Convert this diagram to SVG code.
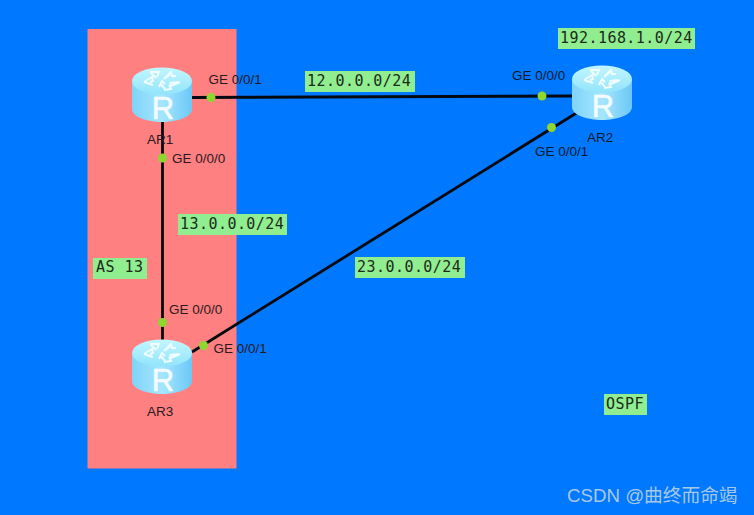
<svg xmlns="http://www.w3.org/2000/svg" width="754" height="515" viewBox="0 0 754 515">
<style>
.lbl{font:13.500px "Liberation Sans",Arial,sans-serif;fill:#0b1a2a}
.lbl2{font:13.500px "Liberation Sans",Arial,sans-serif;fill:#2a1a20}
.tag{fill:#90ee90}
.tt{font:15px "DejaVu Sans Mono","Liberation Mono",monospace;fill:#1c2a1c;letter-spacing:.45px}
.link{stroke:#050a10;stroke-width:2.8;fill:none}
.dot{fill:#8fd62f}
.side{fill:url(#side)}
.top{fill:url(#top)}
.rr{font:400 31px "Liberation Sans",Arial,sans-serif;fill:#f2fcff;text-anchor:middle;stroke:#f2fcff;stroke-width:.6}
.arrow{fill:none;stroke:#f0fdff;stroke-width:2}
</style>
<defs>
<linearGradient id="side" x1="0" x2="1" y1="0" y2="0">
<stop offset="0" stop-color="#7fd4f8"/><stop offset=".5" stop-color="#a6e6ff"/><stop offset="1" stop-color="#6cc8f6"/>
</linearGradient>
<linearGradient id="top" x1="0" x2="0" y1="0" y2="1">
<stop offset="0" stop-color="#c2f6ff"/><stop offset="1" stop-color="#92e4fb"/>
</linearGradient>
<g id="router">
<path class="side" d="M-30-14V14C-30 22-15 27 0 27S30 22 30 14V-14Z"/>
<ellipse class="top" cx="0" cy="-14" rx="30" ry="13.5"/>
<path class="arrow" d="M-18-13l8-5 1 4-3 1M-18-13l9 3M-12-23l9 0-2 5M-11-22l5 5M3-17l6-6 1 4 4 0M2-16l6-5M18-13l-9 4-1-4M16-13l-8 1M-3-8l3-6 3 3M2-5l7-1-2-4M3-6l-5-6"/>
<text class="rr" x="1" y="24">R</text>
</g>
</defs>
<rect width="754" height="515" fill="#0078ff"/>
<rect x="87.500" y="29" width="149" height="439.500" fill="#ff8080"/>
<g id="connectors">
<line class="link" x1="192" y1="97.500" x2="572" y2="96"/>
<line class="link" x1="162.500" y1="120" x2="162.500" y2="342"/>
<line class="link" x1="192" y1="352" x2="578" y2="112"/>
<circle class="dot" cx="211" cy="97.500" r="4.500"/>
<circle class="dot" cx="542" cy="96" r="4.500"/>
<circle class="dot" cx="162.500" cy="158" r="4.500"/>
<circle class="dot" cx="162.500" cy="322.500" r="4.500"/>
<circle class="dot" cx="551.500" cy="127.500" r="4.500"/>
<circle class="dot" cx="203.500" cy="345.500" r="4.500"/>
</g>
<g id="AR1"><use href="#router" x="162" y="95"/><text class="lbl2" x="147" y="144">AR1</text></g>
<g id="AR2"><use href="#router" x="602" y="93"/><text class="lbl" x="587" y="142">AR2</text></g>
<g id="AR3"><use href="#router" x="162" y="367"/><text class="lbl2" x="147" y="416">AR3</text></g>
<g id="port-labels">
<text class="lbl2" x="208.500" y="84">GE 0/0/1</text>
<text class="lbl2" x="172" y="163">GE 0/0/0</text>
<text class="lbl" x="512" y="80">GE 0/0/0</text>
<text class="lbl" x="535" y="156">GE 0/0/1</text>
<text class="lbl2" x="169" y="314">GE 0/0/0</text>
<text class="lbl2" x="213.500" y="353">GE 0/0/1</text>
</g>
<g id="n-12"><rect class="tag" x="305" y="71" width="110" height="21"/><text class="tt" x="307" y="86">12.0.0.0/24</text></g>
<g id="n-192"><rect class="tag" x="558" y="28" width="137" height="21"/><text class="tt" x="560" y="43">192.168.1.0/24</text></g>
<g id="n-13"><rect class="tag" x="178" y="214" width="109" height="21"/><text class="tt" x="180" y="229">13.0.0.0/24</text></g>
<g id="n-as"><rect class="tag" x="93" y="258" width="54" height="21"/><text class="tt" x="96" y="272">AS 13</text></g>
<g id="n-23"><rect class="tag" x="355" y="257" width="110" height="21"/><text class="tt" x="357" y="272">23.0.0.0/24</text></g>
<g id="n-ospf"><rect class="tag" x="604" y="394" width="43" height="21"/><text class="tt" x="606" y="409">OSPF</text></g>
<text x="567" y="502" font-size="18.700" font-family="'Liberation Sans','Noto Sans CJK SC',sans-serif" fill="#a8c8e8">CSDN @曲终而命竭</text>
</svg>
